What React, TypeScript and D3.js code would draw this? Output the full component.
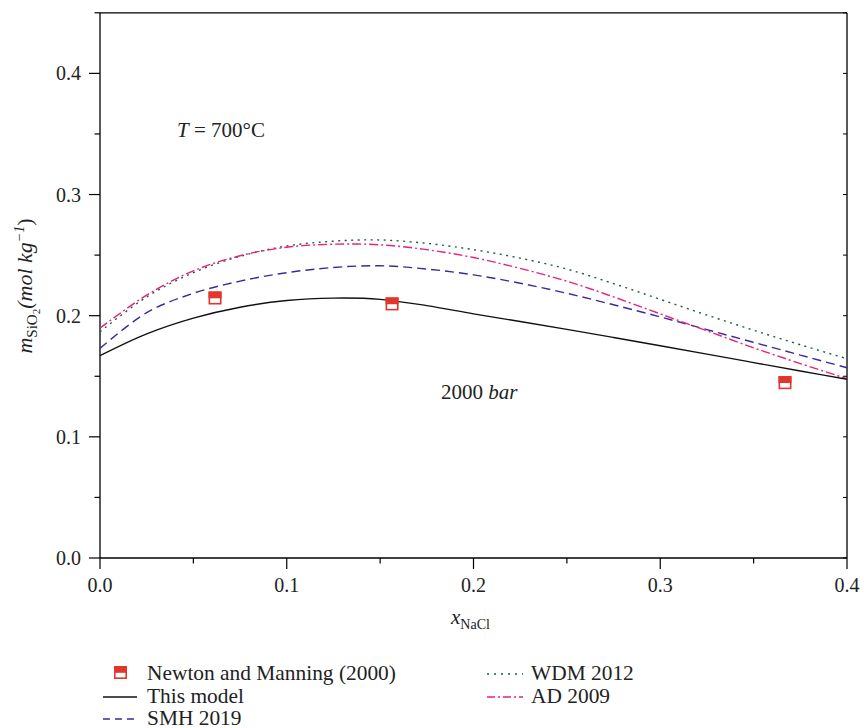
import React from "react";
import * as d3 from "d3";

const xGrid = [0, 0.025, 0.05, 0.075, 0.1, 0.125, 0.15, 0.175, 0.2, 0.225, 0.25, 0.275, 0.3, 0.325, 0.35, 0.375, 0.4];
const thisModel = [0.167, 0.185, 0.198, 0.207, 0.2125, 0.2145, 0.2135, 0.2083, 0.2015, 0.1952, 0.1887, 0.182, 0.1752, 0.1683, 0.1613, 0.1543, 0.1475];
const smh2019 = [0.173, 0.2025, 0.2185, 0.2285, 0.2355, 0.2398, 0.2412, 0.2385, 0.2337, 0.2268, 0.2185, 0.209, 0.199, 0.1885, 0.178, 0.1675, 0.157];
const wdm2012 = [0.1867, 0.2155, 0.2355, 0.249, 0.2575, 0.2615, 0.2625, 0.2597, 0.2545, 0.2475, 0.2385, 0.2265, 0.2135, 0.2005, 0.188, 0.176, 0.1645];
const ad2009 = [0.1897, 0.217, 0.237, 0.2495, 0.2565, 0.259, 0.2585, 0.2545, 0.248, 0.239, 0.2285, 0.2155, 0.2015, 0.1875, 0.1735, 0.1605, 0.148];

const nmX = [0.0616, 0.1564, 0.3668];
const nmY = [0.2146, 0.2097, 0.1447];

const xTicks = [0, 0.1, 0.2, 0.3, 0.4];
const yTicks = [0, 0.1, 0.2, 0.3, 0.4];

const FONT = "'Liberation Serif', 'Times New Roman', serif";

export default function App() {
  const x = d3.scaleLinear().domain([0, 0.4]).range([100, 847]);
  const y = d3.scaleLinear().domain([0, 0.45]).range([558, 12.8]);
  const line = (vals: number[]) =>
    d3.line<number>().x((_, i) => x(xGrid[i])).y((v) => y(v)).curve(d3.curveCatmullRom.alpha(0.5))(vals) || "";
  const xMinor = d3.range(0, 0.4001, 0.05);
  const yMinor = d3.range(0, 0.4501, 0.05);
  const red = "#e2352b";
  const series = [
    { vals: smh2019, color: "#3b2a9a", dash: "9,5" },
    { vals: wdm2012, color: "#1b5e3c", dash: "2,4.5" },
    { vals: ad2009, color: "#e8207f", dash: "9,3,2,3" },
    { vals: thisModel, color: "#111", dash: "" },
  ];
  const marker = (cx: number, cy: number, k: number) => (
    <g key={k}>
      <rect x={cx - 5.7} y={cy - 5.7} width={11.4} height={11.4} fill="#fff" stroke={red} strokeWidth={1.6} />
      <rect x={cx - 6.5} y={cy - 6.5} width={13} height={6.8} fill={red} />
    </g>
  );
  const r1 = 680, r2 = 703, r3 = 725;
  return (
    <svg width={864} height={728} style={{ position: "absolute", left: 0, top: 0, background: "#fff" }} fontFamily={FONT}>
      {/* frame */}
      <line x1={100} x2={100} y1={y(0.45)} y2={y(0)} stroke="#000" strokeWidth={1.3} />
      <line x1={100} x2={847} y1={y(0)} y2={y(0)} stroke="#000" strokeWidth={1.3} />
      <line x1={100} x2={847} y1={y(0.45)} y2={y(0.45)} stroke="#000" strokeWidth={1.3} />
      <line x1={847} x2={847} y1={y(0.45)} y2={y(0)} stroke="#000" strokeWidth={1.3} />
      {/* y ticks */}
      {yMinor.map((v, i) => (
        <g key={"ym" + i}>
          <line x1={100} x2={i % 2 === 0 ? 89 : 94.5} y1={y(v)} y2={y(v)} stroke="#000" strokeWidth={1.2} />
          <line x1={847} x2={843} y1={y(v)} y2={y(v)} stroke="#000" strokeWidth={1} />
        </g>
      ))}
      {yTicks.map((v) => (
        <text key={"yt" + v} x={81} y={y(v)} dy="0.35em" textAnchor="end" fontSize={20} fill="#222">
          {d3.format(".1f")(v)}
        </text>
      ))}
      {/* x ticks */}
      {xMinor.map((v, i) => (
        <line key={"xm" + i} x1={x(v)} x2={x(v)} y1={y(0)} y2={y(0) + (i % 2 === 0 ? 11 : 5.5)} stroke="#000" strokeWidth={1.2} />
      ))}
      {xTicks.map((v) => (
        <text key={"xt" + v} x={x(v)} y={592} textAnchor="middle" fontSize={20} fill="#222">
          {d3.format(".1f")(v)}
        </text>
      ))}
      {/* axis labels */}
      <text x={451} y={624} fontSize={21} fill="#222">
        <tspan fontStyle="italic">x</tspan>
        <tspan fontSize={14} dy={5}>NaCl</tspan>
      </text>
      <text transform="translate(32,286) rotate(-90)" textAnchor="middle" fontSize={22} fill="#222">
        <tspan fontStyle="italic">m</tspan>
        <tspan fontSize={15} dy={5}>SiO</tspan>
        <tspan fontSize={11} dy={3}>2</tspan>
        <tspan fontStyle="italic" dy={-8}>(mol kg</tspan>
        <tspan fontStyle="italic" fontSize={14} dy={-8}>−1</tspan>
        <tspan dy={8}>)</tspan>
      </text>
      {/* annotations */}
      <text x={177} y={137} fontSize={21} fill="#222">
        <tspan fontStyle="italic">T</tspan> = 700°C
      </text>
      <text x={441} y={399} fontSize={21} fill="#222">
        2000 <tspan fontStyle="italic">bar</tspan>
      </text>
      {/* curves */}
      {series.map((s, i) => (
        <path key={"s" + i} d={line(s.vals)} fill="none" stroke={s.color} strokeWidth={1.4} strokeDasharray={s.dash} />
      ))}
      {nmX.map((v, i) => marker(x(v), y(nmY[i]), i))}
      {/* legend */}
      {marker(120.5, r1 - 7.5, 99)}
      <text x={147} y={r1} fontSize={21.4} fill="#222">Newton and Manning (2000)</text>
      <line x1={103} x2={137} y1={r2 - 6} y2={r2 - 6} stroke="#111" strokeWidth={1.4} />
      <text x={147} y={r2} fontSize={21.4} fill="#222">This model</text>
      <line x1={103} x2={137} y1={r3 - 6} y2={r3 - 6} stroke="#3b2a9a" strokeWidth={1.4} strokeDasharray="7,5" />
      <text x={147} y={r3} fontSize={21.4} fill="#222">SMH 2019</text>
      <line x1={487} x2={523} y1={r1 - 6} y2={r1 - 6} stroke="#1b5e3c" strokeWidth={1.4} strokeDasharray="2,5" />
      <text x={531} y={r1} fontSize={21.4} fill="#222">WDM 2012</text>
      <line x1={487} x2={523} y1={r2 - 6} y2={r2 - 6} stroke="#e8207f" strokeWidth={1.4} strokeDasharray="8,3,2,3" />
      <text x={531} y={r2} fontSize={21.4} fill="#222">AD 2009</text>
    </svg>
  );
}
